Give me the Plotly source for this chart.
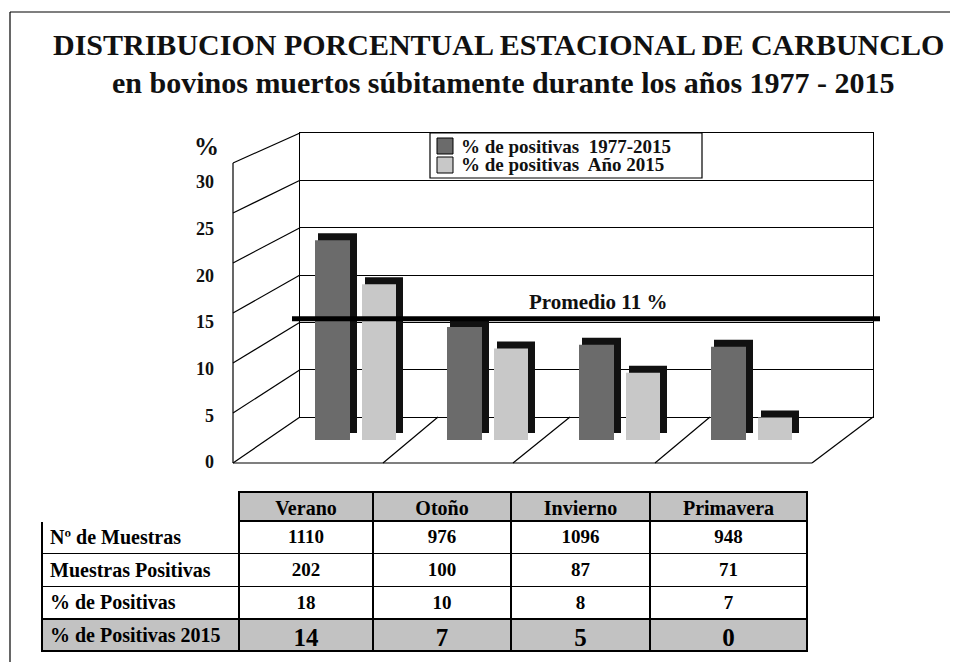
import plotly.graph_objects as go

# ---------------- data ----------------
seasons = ["Verano", "Otoño", "Invierno", "Primavera"]
pct_hist_bars = [21.4, 12.1, 10.2, 10.0]      # % de positivas 1977-2015 (bar heights as drawn)
pct_2015_bars = [16.7, 9.8, 7.2, 2.4]         # % de positivas Año 2015 (bar heights as drawn)
series_names = ["% de positivas  1977-2015", "% de positivas  Año 2015"]
promedio_label = 11
promedio_level = 13.0                          # level of the average line as drawn

row_labels = ["Nº de Muestras", "Muestras Positivas", "% de Positivas"]
last_row_label = "% de Positivas 2015"
n_muestras = [1110, 976, 1096, 948]
muestras_pos = [202, 100, 87, 71]
pct_pos = [18, 10, 8, 7]
pct_pos_2015 = [14, 7, 5, 0]

y_ticks = [0, 5, 10, 15, 20, 25, 30]

# ---------------- geometry / style ----------------
OFF = 8                      # page body margin
W, H = 958 - 2 * OFF, 670 - 2 * OFF
SERIF = "Liberation Serif"
DARK = "#6b6b6b"
LIGHT = "#c8c8c8"
SHADOW = "#111111"
GRAYFILL = "#c2c2c2"


def px(x):
    return (x - OFF) / W


def py(y):
    return 1 - (y - OFF) / H


PX_PER_UNIT = 9.33
CAT_PX = 132.0
BAR_BASE_PX = 440
BAR_TOP_PX = 133
depth_units = 7 / PX_PER_UNIT

fig = go.Figure()

# empty traces so the wall / label subplots are created
fig.add_trace(go.Scatter(x=[None], y=[None], xaxis="x", yaxis="y",
                         showlegend=False, hoverinfo="skip"))
fig.add_trace(go.Scatter(x=[None], y=[None], xaxis="x2", yaxis="y2",
                         showlegend=False, hoverinfo="skip"))

# bars: shadow (3D extrusion) then face
bar_specs = [
    (pct_hist_bars, series_names[0], DARK, -43, 35),
    (pct_2015_bars, series_names[1], LIGHT, 4, 34),
]
for vals, name, col, off_px, w_px in bar_specs:
    fig.add_trace(go.Bar(
        x=seasons, y=vals, base=depth_units,
        offset=(off_px + 3) / CAT_PX, width=(w_px + 4) / CAT_PX,
        marker=dict(color=SHADOW, line=dict(width=0)),
        showlegend=False, hoverinfo="skip", xaxis="x3", yaxis="y3",
    ))
for vals, name, col, off_px, w_px in bar_specs:
    fig.add_trace(go.Bar(
        x=seasons, y=vals, base=0,
        offset=off_px / CAT_PX, width=w_px / CAT_PX,
        marker=dict(color=col, line=dict(width=0)),
        name=name, showlegend=False, xaxis="x3", yaxis="y3",
    ))

# table (header + first three rows)
colwidths = [197, 134, 138, 139, 157]
cols = [row_labels] + [[n_muestras[i], muestras_pos[i], pct_pos[i]] for i in range(4)]
fig.add_trace(go.Table(
    domain=dict(x=[px(42), px(807)], y=[py(619), py(492)]),
    columnwidth=colwidths,
    header=dict(
        values=[""] + seasons,
        fill=dict(color=["white"] + [GRAYFILL] * 4),
        line=dict(color=["white"] + ["black"] * 4, width=1.5),
        align="center",
        font=dict(family=SERIF, size=20, color="black", weight="bold"),
        height=29,
    ),
    cells=dict(
        values=cols,
        fill=dict(color="white"),
        line=dict(color="black", width=1.5),
        align=["left", "center", "center", "center", "center"],
        font=dict(family=SERIF, size=[20, 19, 19, 19, 19], color="black", weight="bold"),
        height=32.7,
    ),
))
# last row (2015) with larger numbers
fig.add_trace(go.Table(
    domain=dict(x=[px(42), px(807)], y=[py(652), py(619)]),
    columnwidth=colwidths,
    header=dict(
        values=[last_row_label] + pct_pos_2015,
        fill=dict(color=GRAYFILL),
        line=dict(color="black", width=1.5),
        align=["left", "center", "center", "center", "center"],
        font=dict(family=SERIF, size=[20, 25, 25, 25, 25], color="black", weight="bold"),
        height=32,
    ),
    cells=dict(values=[]),
))

# average line
fig.add_shape(type="line", xref="paper", yref="y3",
              x0=px(292), x1=px(880), y0=promedio_level, y1=promedio_level,
              line=dict(color="black", width=5), layer="above")

# decorative 3D frame (left wall, floor, outer frame)
deco = []
deco.append(((10, 12), (958, 12)))
deco.append(((10, 12), (10, 670)))
deco.append(((233, 163), (233, 463)))
for k in range(7):
    deco.append(((233, 163 + k * 50), (300, 133 + k * 284 / 6)))
deco.append(((233, 463), (812, 463)))
deco.append(((812, 463), (873, 417)))
for fx, bx in [(383, 438), (513, 570), (655, 710)]:
    deco.append(((fx, 463), (bx, 417)))
for (x0, y0), (x1, y1) in deco:
    fig.add_shape(type="line", xref="paper", yref="paper",
                  x0=px(x0), y0=py(y0), x1=px(x1), y1=py(y1),
                  line=dict(color="black", width=1.2), layer="below")

# legend box (drawn as in the original chart)
fig.add_shape(type="rect", xref="paper", yref="paper",
              x0=px(430), x1=px(702), y0=py(178), y1=py(133),
              line=dict(color="black", width=1.2), fillcolor="white", layer="above")
for i, (name, col) in enumerate(zip(series_names, [DARK, LIGHT])):
    yc = 146 + i * 19
    fig.add_shape(type="rect", xref="paper", yref="paper",
                  x0=px(437), x1=px(453), y0=py(yc + 8), y1=py(yc - 8),
                  line=dict(color="black", width=1), fillcolor=col, layer="above")
    fig.add_annotation(text=f"<b>{name}</b>", x=px(459), y=py(yc), xref="paper", yref="paper",
                       xanchor="left", yanchor="middle", showarrow=False,
                       font=dict(family=SERIF, size=19, color="#111"))

# annotations
fig.add_annotation(text="<b>DISTRIBUCION PORCENTUAL ESTACIONAL DE CARBUNCLO</b>",
                   x=px(498), y=py(45), xref="paper", yref="paper", showarrow=False,
                   xanchor="center", yanchor="middle",
                   font=dict(family=SERIF, size=30, color="#111"))
fig.add_annotation(text="<b>en bovinos muertos súbitamente durante los años 1977 - 2015</b>",
                   x=px(503), y=py(83), xref="paper", yref="paper", showarrow=False,
                   xanchor="center", yanchor="middle",
                   font=dict(family=SERIF, size=30, color="#111"))
fig.add_annotation(text="<b>%</b>", x=px(206), y=py(146), xref="paper", yref="paper",
                   xanchor="center", yanchor="middle",
                   showarrow=False, font=dict(family=SERIF, size=25, color="#111"))
fig.add_annotation(text=f"<b>Promedio {promedio_label} %</b>", x=px(598), y=py(302),
                   xref="paper", yref="paper", showarrow=False,
                   xanchor="center", yanchor="middle",
                   font=dict(family=SERIF, size=21, color="#111"))

fig.update_layout(
    width=W, height=H, margin=dict(l=0, r=0, t=0, b=0, autoexpand=False),
    paper_bgcolor="white", plot_bgcolor="rgba(0,0,0,0)",
    barmode="overlay",
    showlegend=False,
    # back wall
    xaxis=dict(domain=[px(300), px(873)], range=[0, 1], showticklabels=False, ticks="",
               showgrid=False, zeroline=False, showline=True, mirror=True,
               linecolor="black", linewidth=1.2, fixedrange=True),
    yaxis=dict(domain=[py(417), py(133)], range=[0, 30], dtick=5, showticklabels=False,
               ticks="", showgrid=True, gridcolor="black", gridwidth=1.2, zeroline=False,
               showline=True, mirror=True, linecolor="black", linewidth=1.2, fixedrange=True),
    # front tick labels
    xaxis2=dict(domain=[px(150), px(160)], visible=False, range=[0, 1], anchor="y2"),
    yaxis2=dict(domain=[py(462), py(182)], range=[0, 30], tickvals=y_ticks,
                anchor="free", position=px(214), showgrid=False, zeroline=False,
                showline=False, ticks="", automargin=False,
                tickfont=dict(family=SERIF, size=18, color="#111", weight="bold")),
    # bars
    xaxis3=dict(domain=[px(553 - 2 * CAT_PX + 3), px(553 + 2 * CAT_PX + 3)],
                type="category", range=[-0.5, 3.5], visible=False, anchor="y3"),
    yaxis3=dict(domain=[py(BAR_BASE_PX), py(BAR_TOP_PX)],
                range=[0, (BAR_BASE_PX - BAR_TOP_PX) / PX_PER_UNIT],
                visible=False, anchor="x3"),
)

fig.write_html("out.html")
